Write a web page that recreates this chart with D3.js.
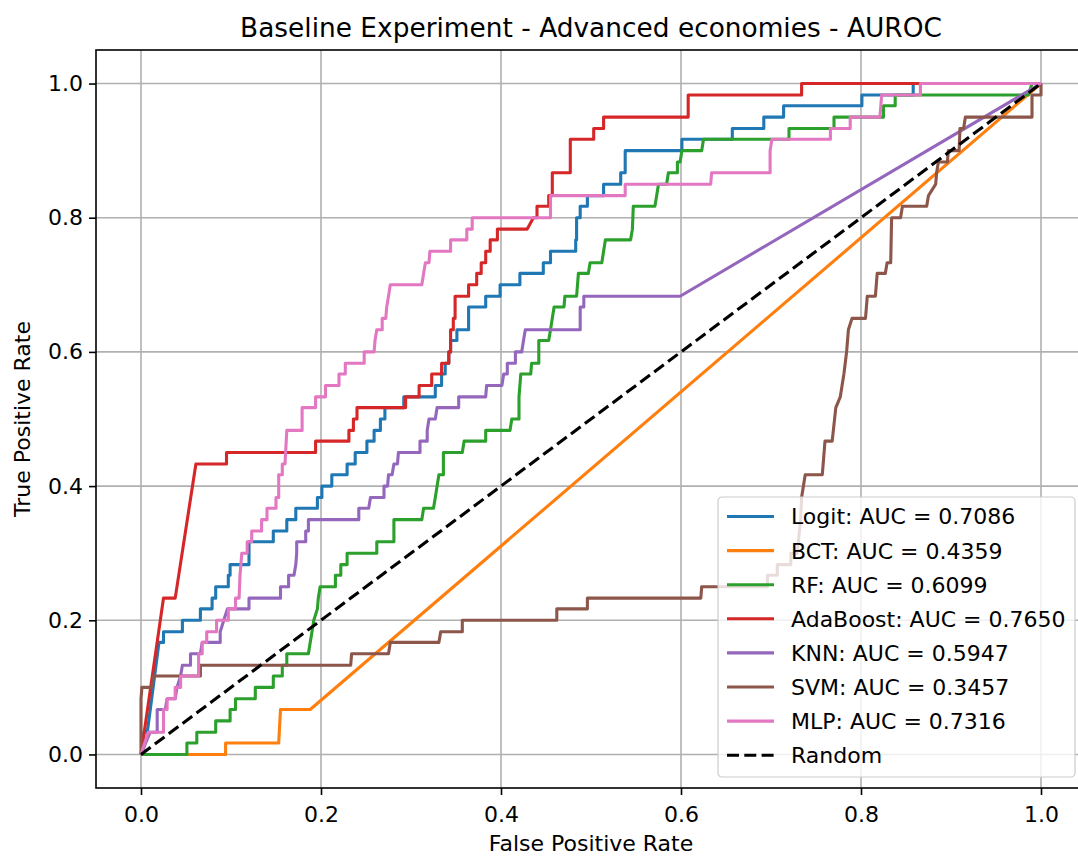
<!DOCTYPE html>
<html>
<head>
<meta charset="utf-8" />
<title>Baseline Experiment - Advanced economies - AUROC</title>
<style>
body { margin: 0; background: #fff; }
#graph {
    width: 1078px;
    height: 856px;
    font-family: "DejaVu Sans", sans-serif;
}
.grid line {
    stroke: #b0b0b0;
    stroke-width: 1.6px;
}
.axis line {
    stroke: #000;
    stroke-width: 1.6px;
}
.axis text {
    font-size: 22px;
    font-family: "DejaVu Sans", sans-serif;
    fill: #000;
}
</style>
</head>
<body>
<div id="graph"></div>
<script src="https://cdnjs.cloudflare.com/ajax/libs/d3/7.8.5/d3.min.js"></script>
<script>
// roc points: [false positive rate, true positive rate]
var logitRoc = [[0,0],[0.003,0],[0.003,0.033],[0.007,0.033],[0.02,0.167],[0.025,0.167],[0.025,0.183],[0.046,0.183],[0.046,0.2],[0.066,0.2],[0.066,0.217],[0.079,0.217],[0.079,0.233],[0.083,0.233],[0.083,0.25],[0.097,0.25],[0.097,0.267],[0.099,0.267],[0.099,0.283],[0.12,0.283],[0.12,0.317],[0.147,0.317],[0.147,0.333],[0.162,0.333],[0.162,0.35],[0.172,0.35],[0.172,0.367],[0.196,0.367],[0.196,0.383],[0.201,0.383],[0.201,0.4],[0.212,0.4],[0.212,0.417],[0.229,0.417],[0.229,0.433],[0.238,0.433],[0.238,0.45],[0.251,0.45],[0.251,0.467],[0.259,0.467],[0.259,0.483],[0.266,0.483],[0.266,0.5],[0.271,0.5],[0.271,0.517],[0.292,0.517],[0.292,0.533],[0.327,0.533],[0.327,0.55],[0.334,0.55],[0.334,0.567],[0.338,0.567],[0.338,0.583],[0.342,0.583],[0.342,0.6],[0.344,0.6],[0.344,0.617],[0.351,0.617],[0.351,0.633],[0.364,0.633],[0.364,0.667],[0.383,0.667],[0.383,0.683],[0.399,0.683],[0.399,0.7],[0.421,0.7],[0.421,0.717],[0.447,0.717],[0.447,0.733],[0.455,0.733],[0.455,0.75],[0.483,0.75],[0.483,0.767],[0.484,0.767],[0.484,0.8],[0.488,0.8],[0.488,0.817],[0.496,0.817],[0.496,0.833],[0.514,0.833],[0.514,0.85],[0.533,0.85],[0.533,0.867],[0.538,0.867],[0.538,0.9],[0.601,0.9],[0.601,0.917],[0.657,0.917],[0.657,0.933],[0.692,0.933],[0.692,0.95],[0.714,0.95],[0.714,0.967],[0.801,0.967],[0.801,0.983],[0.858,0.983],[0.858,1],[1,1]]
var bctRoc = [[0,0],[0.094,0],[0.094,0.017],[0.153,0.017],[0.155,0.067],[0.188,0.067],[1,1]]
var rfRoc = [[0,0],[0.051,0],[0.051,0.017],[0.062,0.017],[0.062,0.033],[0.083,0.033],[0.083,0.05],[0.099,0.05],[0.099,0.067],[0.105,0.067],[0.105,0.083],[0.127,0.083],[0.127,0.1],[0.147,0.1],[0.147,0.117],[0.157,0.117],[0.157,0.133],[0.162,0.133],[0.162,0.15],[0.186,0.15],[0.188,0.167],[0.19,0.183],[0.192,0.2],[0.196,0.217],[0.197,0.233],[0.199,0.25],[0.216,0.25],[0.216,0.267],[0.222,0.267],[0.222,0.283],[0.229,0.283],[0.229,0.3],[0.262,0.3],[0.262,0.317],[0.281,0.317],[0.281,0.35],[0.312,0.35],[0.314,0.367],[0.325,0.367],[0.327,0.383],[0.329,0.4],[0.331,0.417],[0.336,0.417],[0.336,0.45],[0.357,0.45],[0.359,0.467],[0.383,0.467],[0.383,0.483],[0.41,0.483],[0.412,0.5],[0.42,0.5],[0.42,0.533],[0.422,0.567],[0.433,0.567],[0.434,0.583],[0.442,0.583],[0.442,0.617],[0.453,0.617],[0.455,0.633],[0.457,0.65],[0.459,0.667],[0.47,0.667],[0.471,0.683],[0.484,0.683],[0.486,0.717],[0.497,0.717],[0.499,0.733],[0.512,0.733],[0.514,0.75],[0.516,0.767],[0.544,0.767],[0.546,0.783],[0.547,0.817],[0.571,0.817],[0.573,0.833],[0.575,0.85],[0.584,0.85],[0.586,0.867],[0.596,0.867],[0.596,0.883],[0.599,0.883],[0.601,0.9],[0.623,0.9],[0.625,0.917],[0.72,0.917],[0.72,0.933],[0.77,0.933],[0.77,0.95],[0.825,0.95],[0.825,0.967],[0.838,0.967],[0.838,0.983],[0.986,0.983],[0.99,1],[1,1]]
var adaRoc = [[0,0],[0.025,0.233],[0.038,0.233],[0.061,0.433],[0.095,0.433],[0.095,0.45],[0.194,0.45],[0.194,0.467],[0.231,0.467],[0.231,0.483],[0.236,0.483],[0.236,0.5],[0.24,0.5],[0.24,0.517],[0.294,0.517],[0.294,0.533],[0.309,0.533],[0.309,0.55],[0.323,0.55],[0.323,0.567],[0.334,0.567],[0.334,0.583],[0.342,0.583],[0.342,0.6],[0.344,0.6],[0.344,0.633],[0.347,0.633],[0.347,0.65],[0.349,0.65],[0.349,0.683],[0.364,0.683],[0.364,0.7],[0.373,0.7],[0.373,0.717],[0.378,0.717],[0.378,0.733],[0.383,0.733],[0.383,0.75],[0.388,0.75],[0.388,0.767],[0.396,0.767],[0.396,0.783],[0.429,0.783],[0.436,0.8],[0.44,0.8],[0.44,0.817],[0.453,0.817],[0.453,0.833],[0.457,0.833],[0.457,0.867],[0.477,0.867],[0.477,0.917],[0.503,0.917],[0.503,0.933],[0.514,0.933],[0.514,0.95],[0.608,0.95],[0.608,0.983],[0.734,0.983],[0.734,1],[1,1]]
var knnRoc = [[0,0],[0.01,0.033],[0.018,0.033],[0.018,0.067],[0.027,0.067],[0.029,0.083],[0.038,0.083],[0.04,0.1],[0.044,0.117],[0.046,0.133],[0.055,0.133],[0.055,0.15],[0.066,0.15],[0.068,0.167],[0.088,0.167],[0.088,0.183],[0.092,0.2],[0.096,0.217],[0.12,0.217],[0.12,0.233],[0.155,0.233],[0.155,0.25],[0.164,0.25],[0.164,0.267],[0.17,0.267],[0.172,0.283],[0.173,0.3],[0.173,0.317],[0.183,0.317],[0.183,0.333],[0.186,0.333],[0.186,0.35],[0.242,0.35],[0.242,0.367],[0.253,0.367],[0.255,0.383],[0.27,0.383],[0.27,0.4],[0.274,0.4],[0.275,0.417],[0.279,0.417],[0.281,0.433],[0.285,0.433],[0.286,0.45],[0.31,0.45],[0.31,0.467],[0.318,0.467],[0.318,0.483],[0.32,0.5],[0.327,0.5],[0.329,0.517],[0.353,0.517],[0.353,0.533],[0.383,0.533],[0.384,0.55],[0.401,0.55],[0.403,0.567],[0.407,0.567],[0.407,0.583],[0.416,0.583],[0.416,0.6],[0.423,0.6],[0.425,0.617],[0.427,0.633],[0.488,0.633],[0.488,0.667],[0.492,0.667],[0.492,0.683],[0.599,0.683],[1,1]]
var svmRoc = [[0,0],[0,0.083],[0.001,0.1],[0.012,0.1],[0.014,0.117],[0.066,0.117],[0.066,0.133],[0.233,0.133],[0.234,0.15],[0.275,0.15],[0.277,0.167],[0.331,0.167],[0.333,0.183],[0.357,0.183],[0.357,0.2],[0.462,0.2],[0.462,0.217],[0.496,0.217],[0.496,0.233],[0.622,0.233],[0.623,0.25],[0.696,0.25],[0.696,0.267],[0.707,0.267],[0.707,0.283],[0.722,0.283],[0.722,0.3],[0.729,0.3],[0.733,0.35],[0.734,0.383],[0.738,0.417],[0.757,0.417],[0.76,0.467],[0.768,0.467],[0.772,0.517],[0.777,0.533],[0.781,0.567],[0.784,0.6],[0.786,0.633],[0.79,0.65],[0.805,0.65],[0.807,0.683],[0.816,0.683],[0.818,0.717],[0.827,0.717],[0.829,0.733],[0.833,0.733],[0.834,0.8],[0.844,0.8],[0.846,0.817],[0.873,0.817],[0.875,0.833],[0.883,0.85],[0.884,0.867],[0.886,0.883],[0.896,0.883],[0.897,0.9],[0.909,0.9],[0.91,0.933],[0.914,0.933],[0.916,0.95],[0.99,0.95],[0.99,0.983],[1,0.983],[1,1]]
var mlpRoc = [[0,0],[0.008,0.033],[0.025,0.033],[0.025,0.067],[0.029,0.067],[0.029,0.083],[0.038,0.083],[0.038,0.1],[0.044,0.1],[0.044,0.117],[0.064,0.117],[0.064,0.15],[0.068,0.15],[0.068,0.167],[0.073,0.167],[0.073,0.183],[0.084,0.183],[0.084,0.2],[0.097,0.2],[0.097,0.217],[0.105,0.217],[0.105,0.233],[0.109,0.233],[0.11,0.267],[0.112,0.3],[0.118,0.3],[0.118,0.317],[0.123,0.317],[0.123,0.333],[0.134,0.333],[0.134,0.35],[0.14,0.35],[0.14,0.367],[0.15,0.367],[0.15,0.383],[0.153,0.383],[0.153,0.417],[0.157,0.417],[0.157,0.433],[0.16,0.433],[0.162,0.483],[0.179,0.483],[0.179,0.517],[0.194,0.517],[0.194,0.533],[0.205,0.533],[0.205,0.55],[0.22,0.55],[0.22,0.567],[0.227,0.567],[0.227,0.583],[0.248,0.583],[0.248,0.6],[0.259,0.6],[0.26,0.617],[0.262,0.633],[0.268,0.633],[0.268,0.65],[0.272,0.65],[0.273,0.667],[0.275,0.683],[0.277,0.7],[0.312,0.7],[0.314,0.717],[0.316,0.733],[0.32,0.733],[0.321,0.75],[0.344,0.75],[0.344,0.767],[0.362,0.767],[0.362,0.783],[0.368,0.783],[0.368,0.8],[0.455,0.8],[0.455,0.833],[0.538,0.833],[0.538,0.85],[0.633,0.85],[0.634,0.867],[0.699,0.867],[0.699,0.9],[0.701,0.917],[0.766,0.917],[0.766,0.933],[0.788,0.933],[0.788,0.95],[0.821,0.95],[0.823,0.983],[0.866,0.983],[0.866,1],[1,1]]
var randomRoc = [[0,0],[1,1]]

var modelNames = ["Logit", "BCT", "RF", "AdaBoost", "KNN", "SVM", "MLP"]
var aucScores = ["0.7086", "0.4359", "0.6099", "0.7650", "0.5947", "0.3457", "0.7316"]
var modelColors = ["#1f77b4", "#ff7f0e", "#2ca02c", "#d62728", "#9467bd", "#8c564b", "#e377c2"]
var tickValues = [0, 0.2, 0.4, 0.6, 0.8, 1.0]

!(function(){
    "use strict"

    var width = 1078, height = 856
    var margin = {top: 50, left: 96, right: -8, bottom: 68}
    var chartWidth = width - margin.left - margin.right
    var chartHeight = height - margin.top - margin.bottom

    var curves = [logitRoc, bctRoc, rfRoc, adaRoc, knnRoc, svmRoc, mlpRoc]
    var series = curves.map(function(pts, i){
        return {label: modelNames[i] + ": AUC = " + aucScores[i], color: modelColors[i], dash: null, points: pts}
    })
    series.push({label: "Random", color: "#000", dash: "12,5.3", points: randomRoc})

    var svg = d3.select("#graph").append("svg")
        .attr("width", width).attr("height", height)
    var chartLayer = svg.append("g")
        .attr("transform", "translate(" + [margin.left, margin.top] + ")")

    var xScale = d3.scaleLinear().domain([-0.05, 1.05]).range([0, chartWidth])
    var yScale = d3.scaleLinear().domain([-0.05, 1.05]).range([chartHeight, 0])

    drawGrid()
    drawChart()
    drawAxis()
    drawLegend()
    drawText()

    function drawGrid() {
        var grid = chartLayer.append("g").attr("class", "grid")
        grid.selectAll(".gx").data(tickValues).enter().append("line")
            .attr("x1", function(d){ return xScale(d) }).attr("x2", function(d){ return xScale(d) })
            .attr("y1", 0).attr("y2", chartHeight)
        grid.selectAll(".gy").data(tickValues).enter().append("line")
            .attr("y1", function(d){ return yScale(d) }).attr("y2", function(d){ return yScale(d) })
            .attr("x1", 0).attr("x2", chartWidth)
    }

    function drawChart() {
        chartLayer.append("clipPath").attr("id", "clip")
            .append("rect").attr("width", chartWidth).attr("height", chartHeight)

        var line = d3.line()
            .x(function(d){ return xScale(d[0]) })
            .y(function(d){ return yScale(d[1]) })

        chartLayer.append("g").attr("clip-path", "url(#clip)")
            .selectAll("path").data(series).enter().append("path")
            .attr("d", function(d){ return line(d.points) })
            .attr("fill", "none")
            .attr("stroke", function(d){ return d.color })
            .attr("stroke-width", 3.1)
            .attr("stroke-linejoin", "round")
            .attr("stroke-dasharray", function(d){ return d.dash })
    }

    function drawAxis() {
        var xAxis = d3.axisBottom(xScale).tickValues(tickValues)
            .tickFormat(d3.format(".1f")).tickSize(7).tickSizeOuter(0).tickPadding(11)
        var yAxis = d3.axisLeft(yScale).tickValues(tickValues)
            .tickFormat(d3.format(".1f")).tickSize(7).tickSizeOuter(0).tickPadding(6)

        var gx = chartLayer.append("g").attr("class", "axis x")
            .attr("transform", "translate(0," + chartHeight + ")")
            .call(xAxis)
        var gy = chartLayer.append("g").attr("class", "axis y")
            .call(yAxis)
        gx.select(".domain").remove()
        gy.select(".domain").remove()

        chartLayer.append("rect")
            .attr("width", chartWidth).attr("height", chartHeight)
            .attr("fill", "none").attr("stroke", "#000").attr("stroke-width", 1.6)
    }

    function drawLegend() {
        var lg = svg.append("g").attr("transform", "translate(718,497)")
        lg.append("rect")
            .attr("width", 357).attr("height", 280).attr("rx", 4)
            .attr("fill", "#fff").attr("fill-opacity", 0.8)
            .attr("stroke", "#cccccc").attr("stroke-width", 1.2)

        var row = lg.selectAll(".row").data(series).enter().append("g")
            .attr("transform", function(d, i){ return "translate(0," + (19.5 + i * 34.1) + ")" })
        row.append("line")
            .attr("x1", 9).attr("x2", 56)
            .attr("stroke", function(d){ return d.color })
            .attr("stroke-width", 3.1)
            .attr("stroke-dasharray", function(d){ return d.dash })
        row.append("text")
            .attr("x", 73).attr("dy", "0.36em")
            .style("font-size", "22px")
            .text(function(d){ return d.label })
    }

    function drawText() {
        svg.append("text")
            .attr("x", margin.left + chartWidth / 2).attr("y", 37)
            .attr("text-anchor", "middle").style("font-size", "26.4px")
            .text("Baseline Experiment - Advanced economies - AUROC")
        svg.append("text")
            .attr("x", margin.left + chartWidth / 2).attr("y", 851)
            .attr("text-anchor", "middle").style("font-size", "22px")
            .text("False Positive Rate")
        svg.append("text")
            .attr("transform", "translate(30," + (margin.top + chartHeight / 2) + ") rotate(-90)")
            .attr("text-anchor", "middle").style("font-size", "22px")
            .text("True Positive Rate")
    }
}());
</script>
</body>
</html>
